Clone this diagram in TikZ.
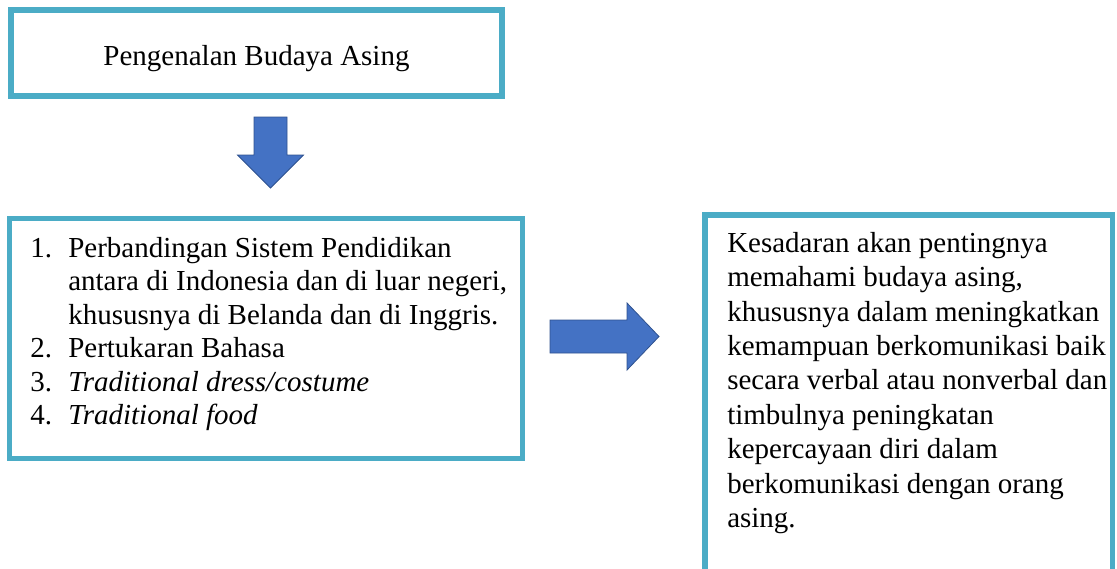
\documentclass[tikz,border=0pt]{standalone}
\usepackage{fontspec}
\setmainfont{Liberation Serif}
\usetikzlibrary{shapes}
\definecolor{framecolor}{HTML}{4BACC6}
\definecolor{arrowfill}{HTML}{4472C4}
\definecolor{arrowline}{HTML}{2F528F}

\begin{document}
\begin{tikzpicture}[x=0.75pt, y=-0.75pt]
		\tikzstyle {frame box} = [draw=framecolor, line width=4.1pt, inner sep=0pt]
		\tikzstyle {block arrow} = [fill=arrowfill, draw=arrowline, line width=0.6pt, line join=miter]
		\tikzstyle {body text} = [inner sep=0pt, anchor=north west, font=\fontsize{21.75pt}{25.1pt}\selectfont]

		\useasboundingbox (0,0) rectangle (1117,568);
		\clip (0,0) rectangle (1117,568);

		\node[frame box, minimum width=368.25pt, minimum height=64.5pt] (intro) at (256.5,53) {};
		\node[frame box, minimum width=384.75pt, minimum height=180pt] (items) at (266,338.5) {};
		\node[frame box, minimum width=305.6pt, minimum height=303.75pt] (result) at (908.75,417.5) {};

		\node[body text, anchor=base] (introtext) at (256.5,65) {Pengenalan Budaya Asing};

		\node[body text] (itemlist) at (30,233.6) {\begin{tabular}{@{}p{28.5pt}@{}l@{}}
			1. & Perbandingan Sistem Pendidikan\\
			   & antara di Indonesia dan di luar negeri,\\
			   & khususnya di Belanda dan di Inggris.\\
			2. & Pertukaran Bahasa\\
			3. & \textit{Traditional dress/costume}\\
			4. & \textit{Traditional food}
		\end{tabular}};

		\node[body text, font=\fontsize{21.75pt}{25.8pt}\selectfont] (resulttext) at (727,228) {\begin{tabular}{@{}l@{}}
			Kesadaran akan pentingnya\\
			memahami budaya asing,\\
			khususnya dalam meningkatkan\\
			kemampuan berkomunikasi baik\\
			secara verbal atau nonverbal dan\\
			timbulnya peningkatan\\
			kepercayaan diri dalam\\
			berkomunikasi dengan orang\\
			asing.
		\end{tabular}};

		\draw[block arrow] (254,117) -- (287,117) -- (287,155) -- (303.5,155) -- (270.5,188) -- (237.5,155) -- (254,155) -- cycle;
		\draw[block arrow] (550,320) -- (627,320) -- (627,303) -- (659,336.5) -- (627,370) -- (627,353) -- (550,353) -- cycle;
\end{tikzpicture}
\end{document}
